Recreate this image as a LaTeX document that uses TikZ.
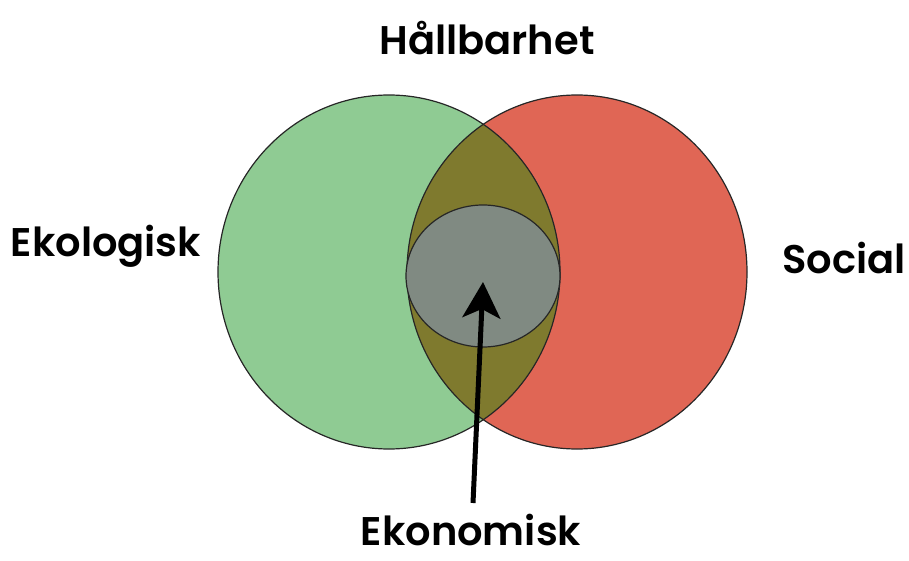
\documentclass[tikz,border=0pt]{standalone}
\usepackage{fontspec}
\setmainfont{Poppins}[BoldFont={Poppins SemiBold}]
\usetikzlibrary{arrows.meta}
\definecolor{ekogreen}{RGB}{143,203,147}
\definecolor{socred}{RGB}{224,102,85}
\definecolor{lensolive}{RGB}{127,122,46}
\definecolor{innergray}{RGB}{128,138,130}
\tikzset{
  label/.style={font=\fontsize{40}{48}\selectfont\bfseries, text=black, inner sep=0pt},
  outline/.style={draw=black!85, line width=1.2pt},
  bigarrow/.style={line width=5pt, -{Stealth[length=36pt, width=38pt, inset=9pt]}}
}
\begin{document}
\begin{tikzpicture}[x=1pt, y=-1pt]
\useasboundingbox (0,0) rectangle (909,561);
% circles
\fill[ekogreen] (389,272) ellipse [x radius=171, y radius=177];
\fill[socred] (577,272) ellipse [x radius=170, y radius=177];
\begin{scope}
  \clip (389,272) ellipse [x radius=171, y radius=177];
  \fill[lensolive] (577,272) ellipse [x radius=170, y radius=177];
\end{scope}
\draw[outline] (389,272) ellipse [x radius=171, y radius=177];
\draw[outline] (577,272) ellipse [x radius=170, y radius=177];
\filldraw[fill=innergray, outline] (483,276) ellipse [x radius=77, y radius=71];
% labels
\node[label] (hall) at (487,38) {Hållbarhet};
\node[label] (ekol) at (106,246) {Ekologisk};
\node[label] (soc) at (844,258) {Social};
\node[label] (ekon) at (471,530) {Ekonomisk};
% arrow
\coordinate (astart) at (473,503);
\coordinate (tip) at (483,282);
\draw[bigarrow] (astart) -- (tip);
\end{tikzpicture}
\end{document}
